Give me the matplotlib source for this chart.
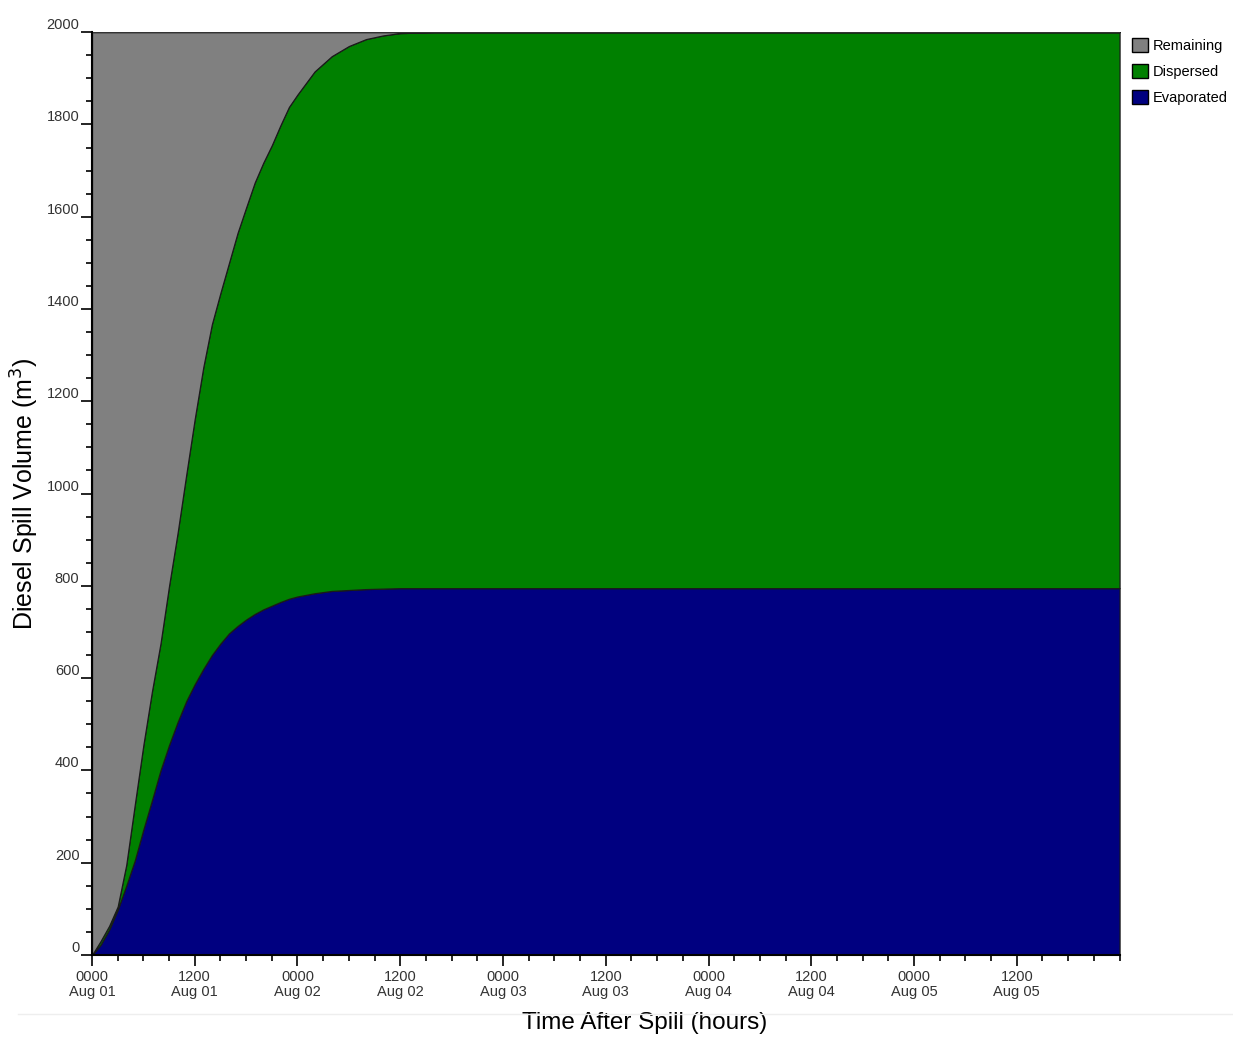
import numpy as np
import matplotlib.pyplot as plt
from matplotlib.lines import Line2D
from matplotlib.patches import Patch

# hours after spill
hours = [0, 1, 2, 3, 4, 5, 6, 7, 8, 9, 10, 11, 12, 13, 14, 15, 16, 17, 18, 19, 20,
         21, 22, 23, 24, 26, 28, 30, 32, 34, 36, 40, 48, 60, 72, 96, 120]
# cumulative evaporated (m3)
evaporated = [0, 22, 55, 98, 150, 205, 272, 335, 400, 455, 505, 550, 587, 620, 650,
              675, 697, 713, 727, 739, 749, 757, 765, 772, 777, 784, 789, 791, 793,
              794, 795, 795, 795, 795, 795, 795, 795]
# evaporated + dispersed (m3)
weathered = [0, 30, 63, 105, 195, 326, 455, 571, 675, 800, 915, 1040, 1162, 1274, 1367,
             1435, 1500, 1565, 1620, 1674, 1717, 1755, 1798, 1838, 1865, 1915, 1948,
             1970, 1985, 1993, 1998, 2000, 2000, 2000, 2000, 2000, 2000]
total_volume = 2000

xtick_hours = [0, 12, 24, 36, 48, 60, 72, 84, 96, 108]
xtick_labels = ["0000\nAug 01", "1200\nAug 01", "0000\nAug 02", "1200\nAug 02",
                "0000\nAug 03", "1200\nAug 03", "0000\nAug 04", "1200\nAug 04",
                "0000\nAug 05", "1200\nAug 05"]
series_names = ["Evaporated", "Dispersed", "Remaining"]
colors = ["#000080", "#008000", "#808080"]

t = np.array(hours, dtype=float)
evap = np.array(evaporated, dtype=float)
disp = np.array(weathered, dtype=float) - evap
remain = total_volume - np.array(weathered, dtype=float)

plt.rcParams['font.family'] = ['Liberation Sans Narrow', 'Liberation Sans', 'DejaVu Sans']

fig = plt.figure(figsize=(12.33, 10.38), dpi=100)
ax = fig.add_axes([0.0746, 0.080, 0.8334, 0.889])

ax.stackplot(t, evap, disp, remain, colors=colors, edgecolor="#1a1a1a", linewidth=0.9)

ax.set_xlim(0, 120)
ax.set_ylim(0, 2000)

ax.set_xticks(xtick_hours)
ax.set_xticklabels(xtick_labels, fontsize=10.5, color="#333333", linespacing=1.1)
ax.set_xticks(np.arange(0, 121, 3), minor=True)
ax.set_yticks(np.arange(0, 2001, 200))
ax.set_yticks(np.arange(0, 2001, 50), minor=True)
ax.tick_params(axis='y', which='major', length=8, width=1.2, labelsize=10.5,
               labelcolor="#333333", pad=1)
ax.tick_params(axis='y', which='minor', length=4, width=1.2)
ax.tick_params(axis='x', which='major', length=8, width=1.2, pad=3)
ax.tick_params(axis='x', which='minor', length=4, width=1.2)
for lbl in ax.get_yticklabels():
    lbl.set_verticalalignment('bottom')

for s in ['top', 'right']:
    ax.spines[s].set_visible(False)
ax.spines['left'].set_linewidth(1.5)
ax.spines['bottom'].set_linewidth(1.5)
ax.axhline(total_volume, color="#333333", lw=1.5)

ax.set_ylabel("Diesel Spill Volume (m$^3$)", fontsize=18, family=['Liberation Sans', 'DejaVu Sans'])
ax.set_xlabel("Time After Spill (hours)", fontsize=17.5, family=['Liberation Sans', 'DejaVu Sans'])
ax.yaxis.set_label_coords(-0.050, 0.5)
ax.xaxis.set_label_coords(0.538, -0.062)

handles = [Patch(facecolor=colors[i], edgecolor="black", label=series_names[i]) for i in [2, 1, 0]]
fig.legend(handles=handles, loc='upper left', bbox_to_anchor=(0.916, 0.966), frameon=False,
           fontsize=10.5, handlelength=1.1, handleheight=1.1, handletextpad=0.3,
           labelspacing=0.75, borderaxespad=0, borderpad=0.2)

fig.add_artist(Line2D([0.015, 1.0], [0.0235, 0.0235], color="#eeeeee", lw=1))

fig.savefig("out.png", dpi=100)
